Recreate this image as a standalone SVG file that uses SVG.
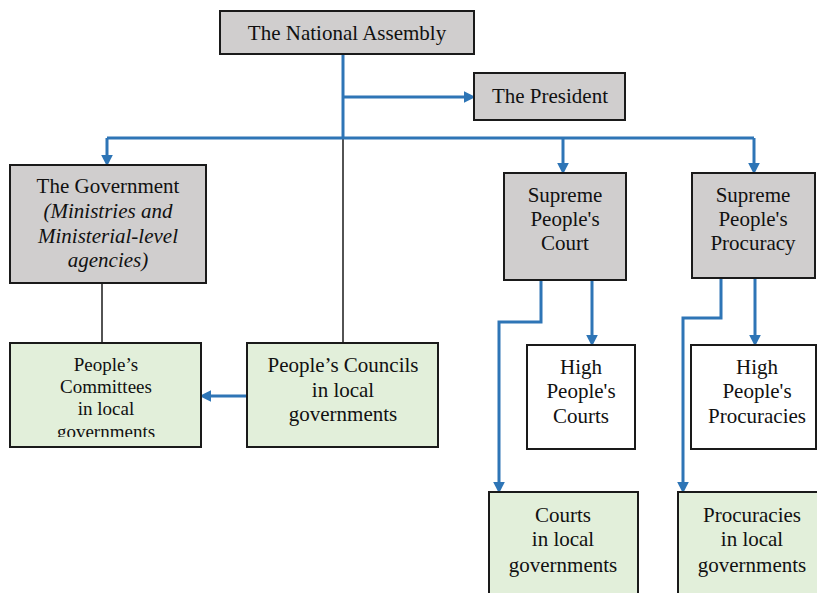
<svg xmlns="http://www.w3.org/2000/svg" width="817" height="593" viewBox="0 0 817 593">
<style>
.g{fill:#d0cece;stroke:#1a1a1a;stroke-width:2}
.gr{fill:#e2efda;stroke:#1a1a1a;stroke-width:2}
.w{fill:#ffffff;stroke:#1a1a1a;stroke-width:2}
.t{font-family:"Liberation Serif","Times New Roman",serif;font-size:21px;fill:#111;text-anchor:middle}
.s{font-size:19px}
.i{font-style:italic}
.b{fill:none;stroke:#2e75b6;stroke-width:3;marker-end:url(#ah)}
.bn{fill:none;stroke:#2e75b6;stroke-width:3}
.k{fill:none;stroke:#1a1a1a;stroke-width:1.5}
</style>
<defs>
<marker id="ah" markerUnits="userSpaceOnUse" markerWidth="12" markerHeight="12" viewBox="0 0 10 10" refX="2" refY="5" orient="auto">
<path d="M0,0 L10,5 L0,10 z" fill="#2e75b6"/>
</marker>
<clipPath id="cc"><rect x="10" y="343" width="192" height="94"/></clipPath>
</defs>
<g id="connectors">
<path class="k" d="M102,283 V343"/>
<path class="k" d="M343,138 V343"/>
<path class="bn" d="M343,54 V138"/>
<path class="b" d="M343,97 H466"/>
<path class="bn" d="M107,138 H754"/>
<path class="b" d="M107,138 V157"/>
<path class="b" d="M563,138 V165"/>
<path class="b" d="M754,138 V165"/>
<path class="b" d="M541,280 V322 H499 V484"/>
<path class="b" d="M592,280 V337"/>
<path class="b" d="M721,278 V318 H683 V484"/>
<path class="b" d="M755,278 V337"/>
<path class="b" d="M247,396 H209"/>
</g>
<g id="national-assembly">
<rect class="g" x="220" y="11" width="254" height="43"/>
<text class="t" x="347" y="40">The National Assembly</text>
</g>
<g id="president">
<rect class="g" x="474" y="73" width="151" height="47"/>
<text class="t" x="550" y="103">The President</text>
</g>
<g id="government">
<rect class="g" x="10" y="165" width="196" height="118"/>
<text class="t" x="108" y="193">The Government</text>
<text class="t i" x="108" y="218">(Ministries and</text>
<text class="t i" x="108" y="243">Ministerial-level</text>
<text class="t i" x="108" y="267">agencies)</text>
</g>
<g id="supreme-court">
<rect class="g" x="504" y="173" width="122" height="107"/>
<text class="t" x="565" y="202">Supreme</text>
<text class="t" x="565" y="226">People's</text>
<text class="t" x="565" y="250">Court</text>
</g>
<g id="supreme-procuracy">
<rect class="g" x="692" y="173" width="123" height="105"/>
<text class="t" x="753" y="202">Supreme</text>
<text class="t" x="753" y="226">People's</text>
<text class="t" x="753" y="250">Procuracy</text>
</g>
<g id="peoples-committees">
<rect class="gr" x="10" y="343" width="191" height="104"/>
<g clip-path="url(#cc)">
<text class="t s" x="106" y="371">People’s</text>
<text class="t s" x="106" y="393">Committees</text>
<text class="t s" x="106" y="415">in local</text>
<text class="t s" x="106" y="438">governments</text>
</g>
</g>
<g id="peoples-councils">
<rect class="gr" x="247" y="343" width="191" height="104"/>
<text class="t" x="343" y="372">People’s Councils</text>
<text class="t" x="343" y="397">in local</text>
<text class="t" x="343" y="421">governments</text>
</g>
<g id="high-courts">
<rect class="w" x="527" y="345" width="108" height="104"/>
<text class="t" x="581" y="374">High</text>
<text class="t" x="581" y="398">People's</text>
<text class="t" x="581" y="423">Courts</text>
</g>
<g id="high-procuracies">
<rect class="w" x="691" y="345" width="125" height="104"/>
<text class="t" x="757" y="374">High</text>
<text class="t" x="757" y="398">People's</text>
<text class="t" x="757" y="423">Procuracies</text>
</g>
<g id="local-courts">
<rect class="gr" x="489" y="492" width="149" height="110"/>
<text class="t" x="563" y="522">Courts</text>
<text class="t" x="563" y="546">in local</text>
<text class="t" x="563" y="572">governments</text>
</g>
<g id="local-procuracies">
<rect class="gr" x="678" y="492" width="150" height="110"/>
<text class="t" x="752" y="522">Procuracies</text>
<text class="t" x="752" y="546">in local</text>
<text class="t" x="752" y="572">governments</text>
</g>
</svg>
